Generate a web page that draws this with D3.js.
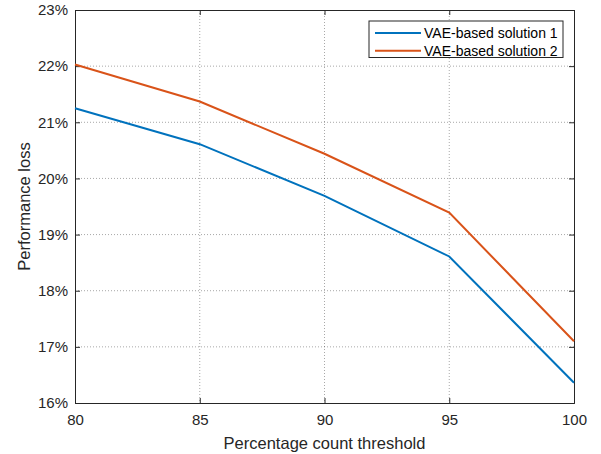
<!DOCTYPE html>
<html><head><meta charset="utf-8">
<script src="https://cdn.jsdelivr.net/npm/d3@7"></script>
<style>body{margin:0;background:#fff}text{font-family:"Liberation Sans",Arial,sans-serif}</style>
</head><body>
<script>
const thresholds = [80, 85, 90, 95, 100];
const solution1 = [21.25, 20.61, 19.69, 18.61, 16.36];
const solution2 = [22.03, 21.37, 20.44, 19.39, 17.10];
const seriesNames = ["VAE-based solution 1", "VAE-based solution 2"];
const seriesColors = ["#0072BD", "#D95319"];
const xTicks = [80, 85, 90, 95, 100];
const yTicks = [16, 17, 18, 19, 20, 21, 22, 23];

const W = 601, H = 454;
const L = 75, R = 574, T = 10, B = 403;
const svg = d3.select("body").append("svg").attr("width", W).attr("height", H);
const x = d3.scaleLinear().domain([80, 100]).range([L, R]);
const y = d3.scaleLinear().domain([16, 23]).range([B, T]);

// grid
const g = svg.append("g");
g.selectAll(".gx").data(xTicks.slice(1, -1)).enter().append("line")
  .attr("x1", d => x(d)).attr("x2", d => x(d)).attr("y1", T).attr("y2", B)
  .attr("stroke", "#262626").attr("stroke-opacity", 0.4).attr("stroke-dasharray", "1,2").attr("stroke-width", 1);
g.selectAll(".gy").data(yTicks.slice(1, -1)).enter().append("line")
  .attr("y1", d => y(d)).attr("y2", d => y(d)).attr("x1", L).attr("x2", R)
  .attr("stroke", "#262626").attr("stroke-opacity", 0.4).attr("stroke-dasharray", "1,2").attr("stroke-width", 1);

// axes
const fmt = d => d + "%";
const xa = svg.append("g").attr("transform", `translate(0,${B})`)
  .call(d3.axisBottom(x).tickValues(xTicks).tickSize(-5).tickPadding(11));
const xa2 = svg.append("g").attr("transform", `translate(0,${T})`)
  .call(d3.axisTop(x).tickValues(xTicks).tickSize(-5).tickFormat(""));
const ya = svg.append("g").attr("transform", `translate(${L},0)`)
  .call(d3.axisLeft(y).tickValues(yTicks).tickSize(-5).tickPadding(7).tickFormat(fmt));
const ya2 = svg.append("g").attr("transform", `translate(${R},0)`)
  .call(d3.axisRight(y).tickValues(yTicks).tickSize(-5).tickFormat(""));
[xa, xa2, ya, ya2].forEach(a => {
  a.selectAll("path,line").attr("stroke", "#262626").attr("stroke-width", 1);
  a.selectAll("text").attr("fill", "#262626").style("font-size", "15px").style("font-family", '"Liberation Sans",Arial,sans-serif');
});

// lines
const line = d3.line().x((d, i) => x(thresholds[i])).y(d => y(d));
[solution1, solution2].forEach((s, i) => {
  svg.append("path").datum(s).attr("d", line).attr("fill", "none")
    .attr("stroke", seriesColors[i]).attr("stroke-width", 2);
});

// labels
svg.append("text").attr("x", (L + R) / 2).attr("y", 449).attr("text-anchor", "middle")
  .attr("fill", "#262626").style("font-size", "16.5px").text("Percentage count threshold");
svg.append("text").attr("transform", `translate(30,${(T + B) / 2}) rotate(-90)`).attr("text-anchor", "middle")
  .attr("fill", "#262626").style("font-size", "16.5px").text("Performance loss");

// legend
const lg = svg.append("g");
lg.append("rect").attr("x", 369).attr("y", 21).attr("width", 194).attr("height", 36.5)
  .attr("fill", "#fff").attr("stroke", "#262626").attr("stroke-width", 1);
seriesNames.forEach((n, i) => {
  const yy = 33 + i * 17.7;
  lg.append("line").attr("x1", 375).attr("x2", 421).attr("y1", yy).attr("y2", yy)
    .attr("stroke", seriesColors[i]).attr("stroke-width", 2);
  lg.append("text").attr("x", 424).attr("y", yy + 5).attr("fill", "#000").style("font-size", "14px").text(n);
});
</script>
</body></html>
